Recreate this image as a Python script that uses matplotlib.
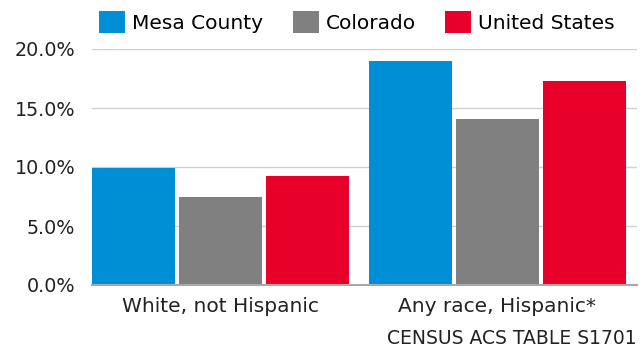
import matplotlib
matplotlib.use("Agg")
import matplotlib.pyplot as plt
from matplotlib.patches import Patch
import numpy as np

categories = ["White, not Hispanic", "Any race, Hispanic*"]
series_names = ["Mesa County", "Colorado", "United States"]
mesa = [9.9, 19.0]
colorado = [7.5, 14.1]
united_states = [9.2, 17.3]
colors = ["#008FD5", "#808080", "#E8002A"]
yticks = [0, 5, 10, 15, 20]
source = "CENSUS ACS TABLE S1701"

plt.rcParams['font.family'] = ['DejaVu Sans']

fig = plt.figure(figsize=(6.42, 3.49), dpi=100)
ax = fig.add_axes([92/642, 1-285/349, 545/642, (285-49)/349])

x = np.arange(len(categories))
w = 0.30
step = 0.314
for i, (vals, name) in enumerate(zip([mesa, colorado, united_states], series_names)):
    ax.bar(x + (i-1)*step, vals, width=w, color=colors[i], label=name, zorder=3)

ax.set_xlim(-0.464, 1.504)
ax.set_ylim(0, 20)
ax.set_yticks(yticks)
ax.set_yticklabels([f"{v:.1f}%" for v in yticks], fontsize=13.8, color="#222222")
ax.set_xticks(x)
ax.set_xticklabels(categories, fontsize=14.5, color="#222222")
ax.tick_params(axis='both', length=0)
ax.tick_params(axis='y', pad=12)
ax.tick_params(axis='x', pad=9)
ax.grid(axis='y', color="#d0d0d0", linewidth=1, zorder=0)
for s in ["top", "right", "left"]:
    ax.spines[s].set_visible(False)
ax.spines["bottom"].set_color("#a8a8a8")
ax.spines["bottom"].set_linewidth(1.5)
ax.spines["bottom"].set_zorder(4)

handles = [Patch(facecolor=c, edgecolor="none") for c in colors]
fig.legend(handles=handles, labels=series_names, loc="upper left",
           bbox_to_anchor=(86/642, 1.005), ncol=3, frameon=False, fontsize=14.5,
           handlelength=1.3, handleheight=1.25, handletextpad=0.35, columnspacing=1.45,
           borderaxespad=0.25)

fig.text(637/642, 1-338/349, source, ha="right", va="center", fontsize=13.5, color="#222222")

fig.savefig("out.png", dpi=100)
